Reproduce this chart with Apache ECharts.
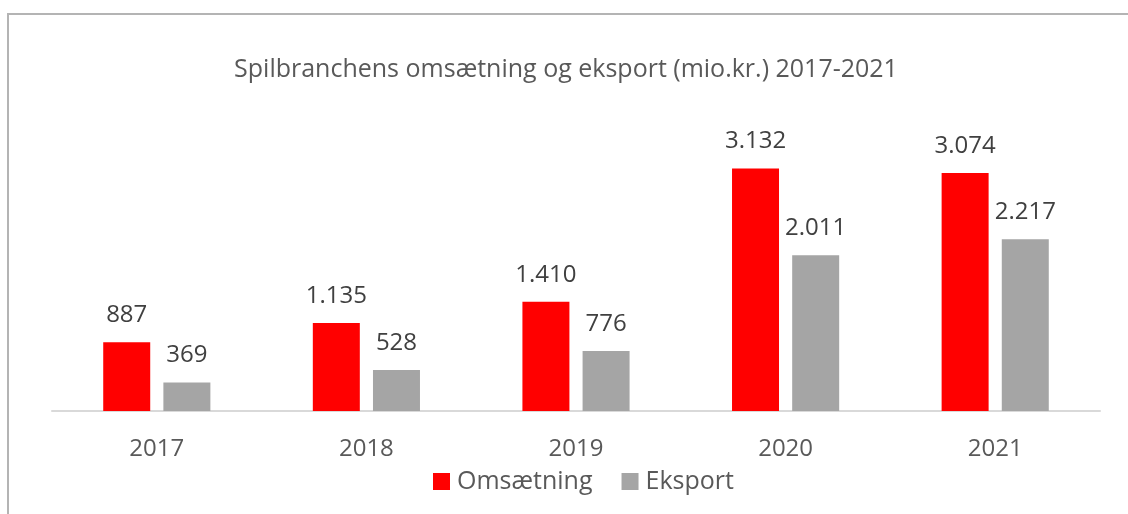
<!DOCTYPE html>
<html>
<head>
<meta charset="utf-8">
<script src="https://cdn.jsdelivr.net/npm/echarts@6/dist/echarts.min.js"></script>
<style>
  html, body { margin: 0; padding: 0; background: #fff; }
  #chart { width: 1128px; height: 514px; }
</style>
</head>
<body>
<div id="chart"></div>
<script>
// data
const years = ['2017', '2018', '2019', '2020', '2021'];
const omsaetning = [887, 1135, 1410, 3132, 3074];
const eksport = [369, 528, 776, 2011, 2217];
const seriesNames = ['Omsætning', 'Eksport'];

const fontFam = '"Open Sans", "Noto Sans", sans-serif';

// danish thousands separator
function fmt(v) {
    return String(v).replace(/\B(?=(\d{3})+(?!\d))/g, '.');
}

const chart = echarts.init(document.getElementById('chart'));

const labelStyle = {
    show: true,
    position: 'top',
    distance: 15,
    color: '#404040',
    fontSize: 24,
    fontFamily: fontFam,
    formatter: p => fmt(p.value),
};

chart.setOption({
    animation: false,
    title: {
        text: 'Spilbranchens omsætning og eksport (mio.kr.) 2017-2021',
        left: 561,
        textAlign: 'center',
        top: 52,
        textStyle: {
            color: '#595959',
            fontSize: 25,
            fontWeight: 'normal',
            fontFamily: fontFam,
        },
    },
    graphic: [
        {
            type: 'rect',
            shape: { x: 8, y: 14, width: 1300, height: 700 },
            style: { fill: 'none', stroke: '#b4b4b4', lineWidth: 2 },
            silent: true,
        },
    ],
    legend: {
        data: seriesNames,
        left: 428,
        top: 464,
        itemWidth: 17,
        itemHeight: 17,
        itemGap: 29,
        icon: 'rect',
        textStyle: {
            color: '#595959',
            fontSize: 25,
            fontFamily: fontFam,
            padding: [0, 0, 0, 2],
        },
    },
    grid: {
        left: 52,
        right: 28,
        top: 140,
        bottom: 103,
    },
    xAxis: {
        type: 'category',
        data: years,
        axisLine: { lineStyle: { color: '#d9d9d9', width: 2 } },
        axisTick: { show: false },
        axisLabel: {
            color: '#595959',
            fontSize: 24,
            fontFamily: fontFam,
            margin: 26,
        },
    },
    yAxis: {
        type: 'value',
        min: 0,
        max: 3500,
        show: false,
        splitLine: { show: false },
    },
    series: [
        {
            name: seriesNames[0],
            type: 'bar',
            data: omsaetning,
            barWidth: 47,
            barGap: '28%',
            itemStyle: { color: '#ff0000' },
            label: labelStyle,
        },
        {
            name: seriesNames[1],
            type: 'bar',
            data: eksport,
            barWidth: 47,
            itemStyle: { color: '#a5a5a5' },
            label: labelStyle,
        },
    ],
});
</script>
</body>
</html>
